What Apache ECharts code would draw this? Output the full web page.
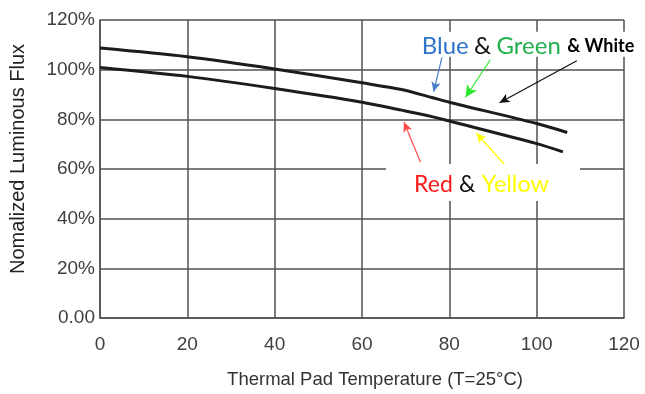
<!DOCTYPE html>
<html>
<head>
<meta charset="utf-8">
<script src="https://cdn.jsdelivr.net/npm/echarts@6/dist/echarts.min.js"></script>
<style>html,body{margin:0;padding:0;background:#fff;}#c{width:645px;height:394px;}</style>
</head>
<body>
<div id="c"></div>
<script>
// Data
const tempsUpper = [0, 20, 40, 60, 69, 76, 80, 100, 107];
const fluxUpper  = [108.7, 105.2, 100.3, 94.7, 92.0, 88.8, 86.9, 78.3, 74.7];
const tempsLower = [0, 20, 40, 60, 69, 76, 80, 100, 106];
const fluxLower  = [100.9, 97.3, 92.4, 86.9, 83.7, 81.1, 79.3, 70.2, 66.9];
const xTicks = [0, 20, 40, 60, 80, 100, 120];
const yTicks = [0, 20, 40, 60, 80, 100, 120];

// Annotation arrows: [from temp, from flux, to temp, to flux]
const arrowBlue   = [78.3, 104.9, 76.4, 91.1];
const arrowGreen  = [89.4, 104.0, 83.7, 88.9];
const arrowWhite  = [109.2, 103.6, 91.5, 86.7];
const arrowRed    = [73.4, 62.7, 69.6, 78.9];
const arrowYellow = [93.2, 60.7, 86.2, 74.4];
// Label box anchors (left edge, vertical centre) [temp, flux]
const labelTop = [72.2, 110.2];
const labelBottom = [65.4, 54.6];

const pairs = (xs, ys) => xs.map((x, i) => [x, ys[i]]);
const arrow = (a, color, size) => ({
  type: 'line', data: [], silent: true, z: 20,
  markLine: {
    silent: true, animation: false,
    symbol: ['none', 'arrow'], symbolSize: size,
    label: { show: false },
    lineStyle: { color: color, width: 1.2, type: 'solid' },
    emphasis: { disabled: true },
    data: [[{ coord: [a[0], a[1]] }, { coord: [a[2], a[3]] }]]
  }
});

const gridColor = '#505050';
const labelFont = 'Lato';
const chart = echarts.init(document.getElementById('c'), null, { renderer: 'canvas' });
chart.setOption({
  animation: false,
  backgroundColor: '#fff',
  grid: { left: 99, right: 21, top: 20, bottom: 74 },
  xAxis: {
    type: 'value', min: 0, max: 120, interval: 20,
    name: 'Thermal Pad Temperature (T=25°C)',
    nameLocation: 'middle', nameGap: 52,
    nameTextStyle: { fontFamily: 'Liberation Sans', fontSize: 18.5, color: '#333', padding: [0, 0, 0, 26] },
    axisLine: { lineStyle: { color: gridColor, width: 1.5 } },
    axisTick: { show: false },
    splitLine: { show: true, lineStyle: { color: gridColor, width: 1.5 } },
    axisLabel: {
      margin: 17, fontFamily: 'Liberation Sans', fontSize: 19, color: '#404040',
      customValues: xTicks
    }
  },
  yAxis: {
    type: 'value', min: 0, max: 120, interval: 20,
    name: 'Nomalized Luminous Flux',
    nameLocation: 'middle', nameGap: 72,
    nameTextStyle: { fontFamily: 'Liberation Sans', fontSize: 20, color: '#222', padding: [0, 0, 0, 20] },
    axisLine: { show: true, lineStyle: { color: gridColor, width: 1.5 } },
    axisTick: { show: false },
    splitLine: { show: true, lineStyle: { color: gridColor, width: 1.5 } },
    axisLabel: {
      margin: 5, fontFamily: 'Liberation Sans', fontSize: 19, color: '#404040',
      customValues: yTicks,
      formatter: v => (v === 0 ? '0.00' : v + '%')
    }
  },
  series: [
    {
      name: 'Blue & Green & White', type: 'line', data: pairs(tempsUpper, fluxUpper),
      smooth: 0.3, showSymbol: false, z: 10,
      lineStyle: { color: '#1c1c1c', width: 3 }
    },
    {
      name: 'Red & Yellow', type: 'line', data: pairs(tempsLower, fluxLower),
      smooth: 0.3, showSymbol: false, z: 10,
      lineStyle: { color: '#1c1c1c', width: 3 }
    },
    {
      type: 'line', data: [], silent: true, z: 15,
      markPoint: {
        silent: true, animation: false, symbol: 'circle', symbolSize: 1,
        itemStyle: { color: 'rgba(0,0,0,0)' },
        data: [
          {
            coord: labelTop,
            label: {
              show: true, position: 'right', distance: 0,
              backgroundColor: '#fff', padding: [3, 6, 0, 6],
              formatter: '{b|Blue} {k|&} {g|Green} {w|& White}',
              rich: {
                b: { color: '#2f74c8', fontFamily: labelFont, fontSize: 24, lineHeight: 22 },
                k: { color: '#111', fontFamily: labelFont, fontSize: 24, lineHeight: 22, padding: [0, 2, 0, 2] },
                g: { color: '#22b04c', fontFamily: labelFont, fontSize: 24, lineHeight: 22 },
                w: { color: '#000', fontFamily: labelFont, fontSize: 18, fontWeight: 'bold', lineHeight: 22, padding: [0, 0, 0, 3] }
              }
            }
          },
          {
            coord: labelBottom,
            label: {
              show: true, position: 'right', distance: 0,
              backgroundColor: '#fff', padding: [9, 31, 4, 28],
              formatter: '{r|Red} {k|&} {y|Yellow}',
              rich: {
                r: { color: '#ff1a1a', fontFamily: labelFont, fontSize: 23, lineHeight: 24 },
                k: { color: '#111', fontFamily: labelFont, fontSize: 23, lineHeight: 24, padding: [0, 3, 0, 3] },
                y: { color: '#ffff00', fontFamily: labelFont, fontSize: 23.5, lineHeight: 24 }
              }
            }
          }
        ]
      }
    },
    arrow(arrowBlue, '#4a7fc7', [7, 10]),
    arrow(arrowGreen, '#2ee82e', [9, 12]),
    arrow(arrowWhite, '#111', [7, 10]),
    arrow(arrowRed, '#ff4d4d', [7, 10]),
    arrow(arrowYellow, '#ffff00', [7, 10])
  ]
});
</script>
</body>
</html>
